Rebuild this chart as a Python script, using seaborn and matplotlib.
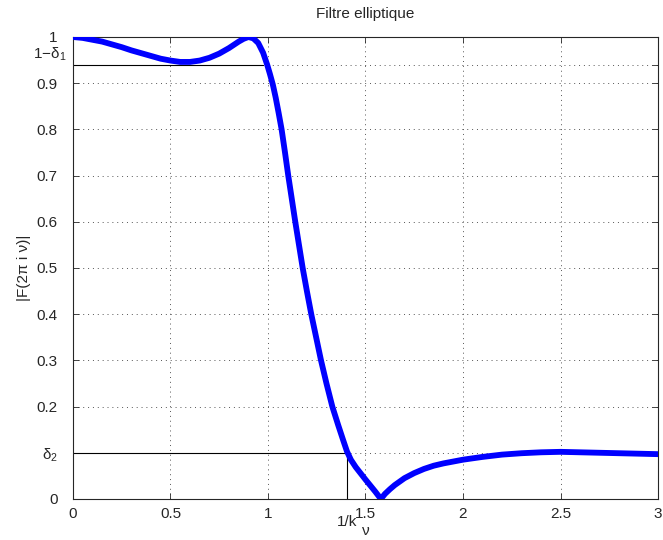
import numpy as np
import pandas as pd
import seaborn as sns
import matplotlib
matplotlib.use("Agg")
import matplotlib.pyplot as plt
import matplotlib.transforms as mtransforms

# values
nu = [0.0, 0.05, 0.1, 0.15, 0.2, 0.25, 0.3, 0.35, 0.4, 0.45, 0.5, 0.55,
      0.6, 0.65, 0.7, 0.75, 0.8, 0.85, 0.875, 0.9, 0.925, 0.95, 0.975,
      0.996, 1.01, 1.025, 1.04, 1.055, 1.07, 1.087, 1.104, 1.122, 1.14,
      1.159, 1.178, 1.2, 1.222, 1.247, 1.272, 1.3, 1.33, 1.36, 1.385,
      1.405, 1.425, 1.45, 1.5, 1.55, 1.579, 1.6, 1.625, 1.65, 1.7, 1.75,
      1.8, 1.85, 1.9, 2.0, 2.1, 2.2, 2.3, 2.4, 2.5, 2.6, 2.7, 2.8, 2.9, 3.0]
mag = [1.0, 0.998, 0.994, 0.99, 0.984, 0.978, 0.971, 0.965, 0.959, 0.953,
       0.949, 0.946, 0.946, 0.949, 0.955, 0.964, 0.976, 0.99, 0.996, 1.0,
       0.997, 0.987, 0.966, 0.94, 0.92, 0.897, 0.868, 0.835, 0.8, 0.751,
       0.7, 0.65, 0.6, 0.55, 0.5, 0.449, 0.4, 0.35, 0.3, 0.25, 0.2, 0.16,
       0.128, 0.103, 0.085, 0.069, 0.042, 0.016, 0.0, 0.011, 0.021, 0.03,
       0.045, 0.056, 0.065, 0.072, 0.077, 0.085, 0.091, 0.096, 0.099,
       0.101, 0.102, 0.101, 0.1, 0.099, 0.098, 0.097]

one_minus_delta1 = 0.94
passband_edge = 0.975
delta2 = 0.1
inv_k = 1.405

df = pd.DataFrame({"nu": nu, "mag": mag})

sns.set_style("ticks")
plt.rcParams["font.family"] = ["Liberation Sans", "DejaVu Sans"]
plt.rcParams["mathtext.fontset"] = "custom"
plt.rcParams["mathtext.rm"] = "Liberation Sans"
plt.rcParams["mathtext.it"] = "Liberation Sans"

fig = plt.figure(figsize=(6.63, 5.40), dpi=100)
ax = fig.add_axes([0.110, 0.076, 0.8825, 0.8555])

sns.lineplot(data=df, x="nu", y="mag", color="#0000ff", linewidth=4.2, ax=ax, zorder=3)

# passband / stopband markers
ax.plot([0, passband_edge], [one_minus_delta1, one_minus_delta1], color="black", lw=0.8, zorder=2)
ax.plot([0, inv_k], [delta2, delta2], color="black", lw=0.8, zorder=2)
ax.plot([inv_k, inv_k], [0, delta2], color="black", lw=0.8, zorder=2)

ax.set_xlim(0, 3)
ax.set_ylim(0, 1)
ax.set_xticks([0, 0.5, 1, 1.5, 2, 2.5, 3])
ax.set_xticklabels(["0", "0.5", "1", "1.5", "2", "2.5", "3"])
yt = [0, delta2, 0.2, 0.3, 0.4, 0.5, 0.6, 0.7, 0.8, 0.9, one_minus_delta1, 1]
ylabels = ["0", r"δ$_2$", "0.2", "0.3", "0.4", "0.5", "0.6", "0.7", "0.8",
           "0.9", "", "1"]
ax.set_yticks(yt)
ax.set_yticklabels(ylabels)

# labels that sit a little off the tick positions
trans = mtransforms.blended_transform_factory(ax.transAxes, ax.transData)
ax.text(-0.012, one_minus_delta1 + 0.014, r"1−δ$_1$", transform=trans,
        ha="right", va="baseline", fontsize=11)
ax.text(inv_k, -0.035, "1/k", ha="center", va="top", fontsize=11)

ax.tick_params(direction="in", top=True, right=True, labelsize=11, length=4, width=0.6)
ax.tick_params(axis="y", pad=11)
ax.tick_params(axis="x", pad=6)
ax.grid(True, linestyle=(0, (1, 4)), color="#555555", linewidth=0.7)
for s in ax.spines.values():
    s.set_linewidth(0.8)
    s.set_visible(True)

ax.set_title("Filtre elliptique", fontsize=11, pad=14)
ax.set_xlabel("ν", fontsize=11, labelpad=2)
ax.set_ylabel("|F(2π i ν)|", fontsize=11, labelpad=4)

fig.savefig("out.png", dpi=100)
